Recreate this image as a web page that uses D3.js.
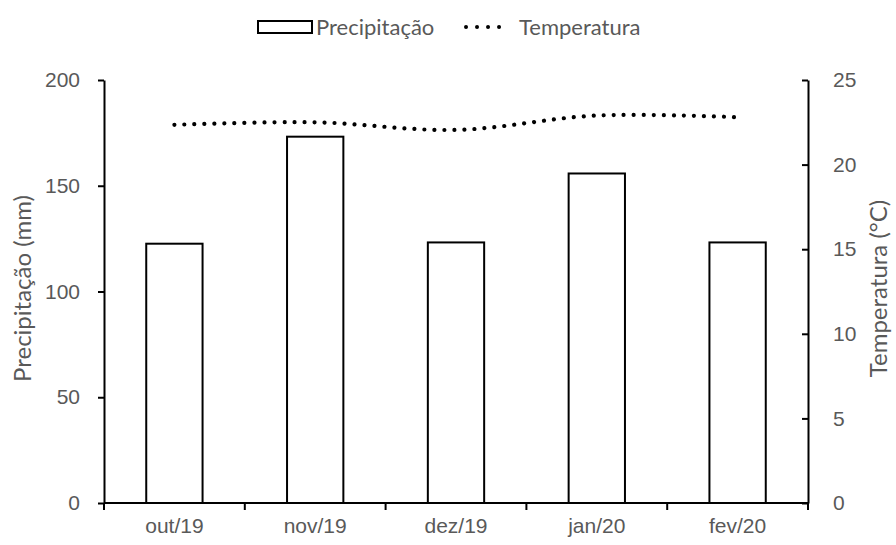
<!DOCTYPE html>
<html>
<head>
<meta charset="utf-8">
<script src="https://cdn.jsdelivr.net/npm/d3@7"></script>
<style>
  html, body { margin: 0; padding: 0; background: #fff; }
  svg { display: block; font-family: Lato, "Open Sans", sans-serif; }
</style>
</head>
<body>
<svg id="chart" width="896" height="545"></svg>
<script>
const months = ["out/19", "nov/19", "dez/19", "jan/20", "fev/20"];
const precipitation = [122.6, 173.2, 123.2, 155.8, 123.2];
const temperature = [22.35, 22.5, 22.05, 22.9, 22.8];
const precipTicks = [0, 50, 100, 150, 200];
const tempTicks = [0, 5, 10, 15, 20, 25];

const svg = d3.select("#chart");
const m = { left: 104, right: 808, top: 80, bottom: 503 };
const labelColor = "#595959";

const x = d3.scaleBand().domain(months).range([m.left, m.right]).paddingInner(0.6).paddingOuter(0.3);
const xBound = d3.scaleBand().domain(months).range([m.left, m.right]).padding(0);
const yL = d3.scaleLinear().domain([0, 200]).range([m.bottom, m.top]);
const yR = d3.scaleLinear().domain([0, 25]).range([m.bottom, m.top]);

// bars
svg.append("g").selectAll("rect").data(months).join("rect")
  .attr("x", (d) => x(d))
  .attr("width", x.bandwidth())
  .attr("y", (d, i) => yL(precipitation[i]))
  .attr("height", (d, i) => yL(0) - yL(precipitation[i]))
  .attr("fill", "#fff").attr("stroke", "#000").attr("stroke-width", 2);

// temperature line
const line = d3.line()
  .x((d, i) => xBound(months[i]) + xBound.bandwidth() / 2)
  .y((d) => yR(d))
  .curve(d3.curveCatmullRom.alpha(0.5));
svg.append("path").datum(temperature)
  .attr("d", line)
  .attr("fill", "none").attr("stroke", "#000")
  .attr("stroke-width", 4.2)
  .attr("stroke-linecap", "round")
  .attr("stroke-dasharray", "0.01 10");

// axes
function styleAxis(g, size) {
  g.selectAll(".domain").attr("stroke", "#000").attr("stroke-width", 2);
  g.selectAll(".tick line").attr("stroke", "#000").attr("stroke-width", 2);
  g.selectAll(".tick text").attr("fill", labelColor).style("font-size", size + "px");
}
const gL = svg.append("g").attr("transform", `translate(${m.left},0)`)
  .call(d3.axisLeft(yL).tickValues(precipTicks).tickSize(6).tickPadding(18).tickSizeOuter(0));
styleAxis(gL, 21);
const gR = svg.append("g").attr("transform", `translate(${m.right},0)`)
  .call(d3.axisRight(yR).tickValues(tempTicks).tickSize(0).tickPadding(25).tickSizeOuter(0));
styleAxis(gR, 21);
gR.selectAll(".tick").append("line").attr("x1", -6).attr("x2", 0).attr("stroke", "#000").attr("stroke-width", 2);

const gB = svg.append("g").attr("transform", `translate(0,${m.bottom})`)
  .call(d3.axisBottom(xBound).tickSize(0).tickPadding(15).tickSizeOuter(0));
styleAxis(gB, 21);
gB.select(".domain").attr("d", `M${m.left},0H${m.right}`);
const bounds = months.map((d) => xBound(d)).concat([m.right]);
gB.selectAll(".bound").data(bounds).join("line").attr("class", "bound")
  .attr("x1", (d) => d).attr("x2", (d) => d).attr("y1", 0).attr("y2", 7)
  .attr("stroke", "#000").attr("stroke-width", 2);

// axis titles
const midY = (m.top + m.bottom) / 2 - 3;
svg.append("text").attr("transform", `translate(31,${midY}) rotate(-90)`)
  .attr("text-anchor", "middle").attr("fill", labelColor).style("font-size", "24px")
  .text("Precipitação (mm)");
svg.append("text").attr("transform", `translate(887,${midY}) rotate(-90)`)
  .attr("text-anchor", "middle").attr("fill", labelColor).style("font-size", "24px")
  .text("Temperatura (°C)");

// legend
const lg = svg.append("g");
lg.append("rect").attr("x", 258).attr("y", 21).attr("width", 54).attr("height", 12)
  .attr("fill", "#fff").attr("stroke", "#000").attr("stroke-width", 2);
lg.append("text").attr("x", 316).attr("y", 35).attr("fill", labelColor).style("font-size", "22px").text("Precipitação");
lg.append("line").attr("x1", 466).attr("x2", 510).attr("y1", 27).attr("y2", 27)
  .attr("stroke", "#000").attr("stroke-width", 4).attr("stroke-linecap", "round").attr("stroke-dasharray", "0.01 11");
lg.append("text").attr("x", 519).attr("y", 35).attr("fill", labelColor).style("font-size", "22px").text("Temperatura");
</script>
</body>
</html>
